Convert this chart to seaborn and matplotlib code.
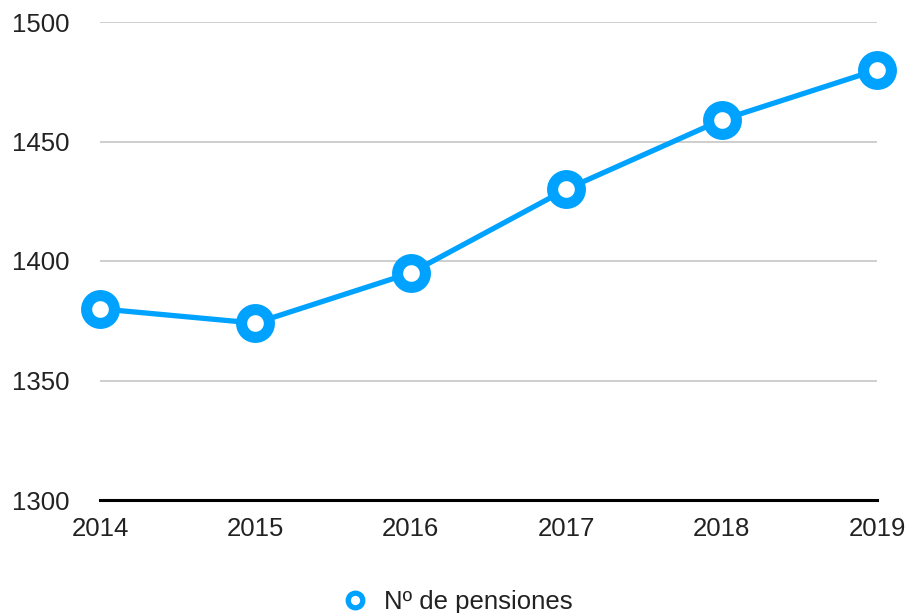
import matplotlib
matplotlib.use("Agg")
import matplotlib.pyplot as plt
import seaborn as sns
import pandas as pd

years = [2014, 2015, 2016, 2017, 2018, 2019]
pensiones = [1380, 1374, 1395, 1430, 1459, 1480]
y_ticks = [1300, 1350, 1400, 1450, 1500]
series_name = "Nº de pensiones"

sns.set_theme(style="white")
plt.rcParams['font.family'] = ['Liberation Sans', 'DejaVu Sans']

df = pd.DataFrame({"year": years, "value": pensiones, "serie": series_name})
color = "#00A2FF"

fig = plt.figure(figsize=(9.08, 6.13), dpi=100)
ax = fig.add_axes([100/908, 113/613, 777/908, 478/613])

sns.lineplot(data=df, x="year", y="value", hue="serie", palette=[color],
             marker="o", markersize=20, markeredgewidth=8, markeredgecolor=color,
             markerfacecolor="white", linewidth=3.8, ax=ax, clip_on=False, zorder=5)

ax.set_xlim(2014, 2019)
ax.set_ylim(1300, 1500)
ax.set_yticks(y_ticks)
ax.set_xticks(years)
ax.set_xticklabels([str(y) for y in years])
ax.set_xlabel("")
ax.set_ylabel("")
for y in y_ticks[1:]:
    ax.axhline(y, color="#c6c6c6", linewidth=1.2, zorder=1)
for s in ["top", "right", "left"]:
    ax.spines[s].set_visible(False)
ax.spines["bottom"].set_color("black")
ax.spines["bottom"].set_linewidth(2.2)
ax.tick_params(axis="y", length=0, pad=22, labelsize=18.5, labelcolor="#222222")
ax.tick_params(axis="x", length=0, pad=12, labelsize=18.5, labelcolor="#222222")

handles, labels = ax.get_legend_handles_labels()
for h in handles:
    h.set_markersize(10.5)
    h.set_markeredgewidth(3.8)
    h.set_linewidth(0)
ax.legend(handles, labels, loc="upper center", bbox_to_anchor=(0.46, -0.14),
          frameon=False, fontsize=18.5, handlelength=1.0, handletextpad=0.6,
          labelcolor="#222222")

fig.savefig("out.png", dpi=100)
